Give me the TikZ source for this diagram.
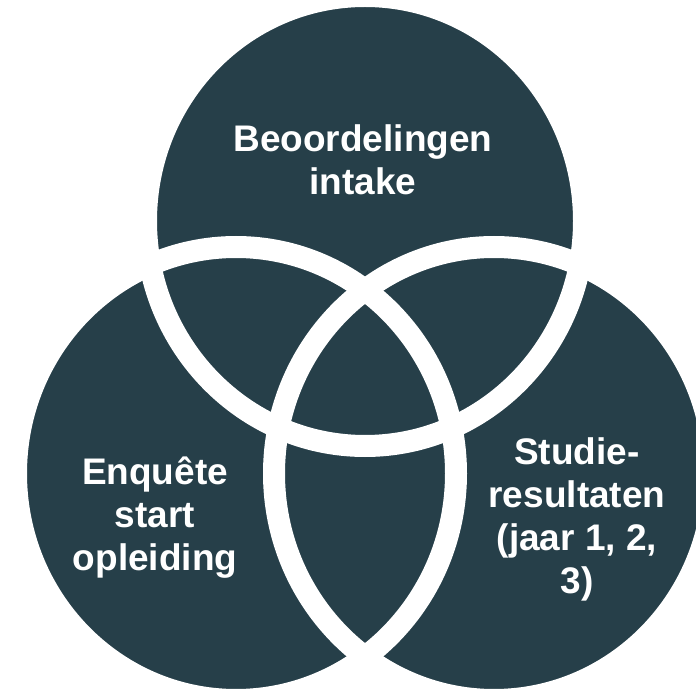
\documentclass[tikz,border=0pt]{standalone}
\usepackage{fontspec}
\setmainfont{Liberation Sans}
\definecolor{venn}{RGB}{38,63,73}
\tikzset{
  gap/.style = {draw=white, line width=22pt},
  setlabel/.style = {text=white, align=center, inner sep=0pt,
    font=\fontsize{37}{43}\selectfont\bfseries}
}
\begin{document}
\begin{tikzpicture}[x=1pt, y=-1pt]
\useasboundingbox (0,0) rectangle (696,692);
\clip (0,0) rectangle (696,692);
% the three sets
\foreach \cx/\cy/\rx/\ry in {365/221/219/225, 236/473.5/220/226.5, 494/473.5/220/226.5}
  \fill[venn] (\cx,\cy) ellipse[x radius=\rx, y radius=\ry];
% white bands on top
\foreach \cx/\cy/\rx/\ry in {365/221/219/225, 236/473.5/220/226.5, 494/473.5/220/226.5}
  \draw[gap] (\cx,\cy) ellipse[x radius=\rx, y radius=\ry];
\node[setlabel] (intake) at (363,160) {Beoordelingen\\intake};
\node[setlabel] (enquete) at (155,518) {Enquête\\start\\opleiding};
\node[setlabel] (studie) at (577,519) {Studie-\\resultaten\\(jaar 1, 2,\\3)};
\end{tikzpicture}
\end{document}
